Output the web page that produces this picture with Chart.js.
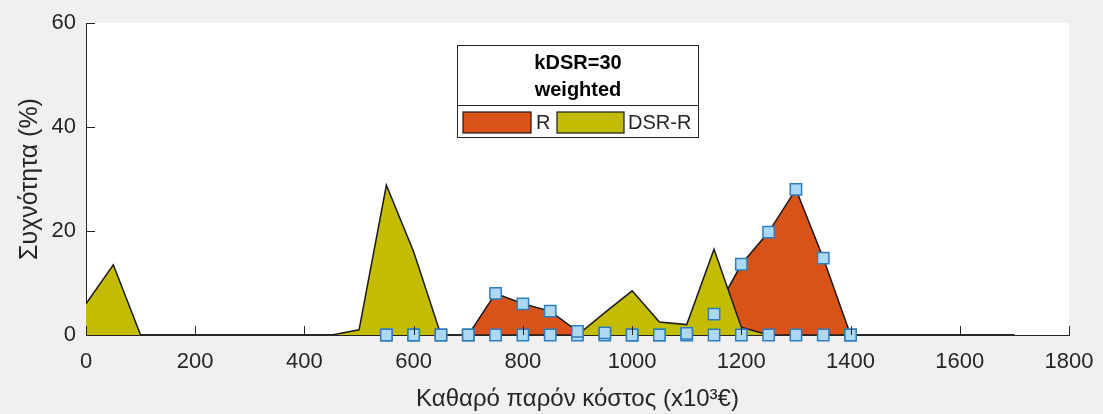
<!DOCTYPE html>
<html>
<head>
<meta charset="utf-8">
<script src="https://cdn.jsdelivr.net/npm/chart.js@4.4.0/dist/chart.umd.min.js"></script>
<style>
  html, body { margin: 0; padding: 0; background: #f0f0f0; }
  #wrap { width: 1103px; height: 414px; }
</style>
</head>
<body>
<div id="wrap"><canvas id="chart" width="1103" height="414"></canvas></div>
<script>
// cost bins (x10^3 €)
const costBins = [0, 50, 100, 150, 200, 250, 300, 350, 400, 450, 500, 550, 600, 650, 700, 750, 800, 850,
                  900, 950, 1000, 1050, 1100, 1150, 1200, 1250, 1300, 1350, 1400, 1450, 1500, 1550, 1600, 1650, 1700];
// frequency (%) per bin
const freqR = [0, 0, 0, 0, 0, 0, 0, 0, 0, 0, 0, 0, 0, 0, 0, 8, 6, 4.6,
               0.7, 0.4, 0, 0, 0.3, 4, 13.6, 19.8, 28, 14.8, 0, 0, 0, 0, 0, 0, 0];
const freqDSR = [6, 13.5, 0, 0, 0, 0, 0, 0, 0, 0, 1, 28.8, 16, 0, 0, 0, 0, 0,
                 0, 4.3, 8.5, 2.5, 2, 16.5, 1.5, 0, 0, 0, 0, 0, 0, 0, 0, 0, 0];
// square markers
const markerBins = [550, 600, 650, 700, 750, 800, 850, 900, 950, 1000, 1050, 1100, 1150, 1200, 1250, 1300, 1350, 1400];
const markerHigh = [0, 0, 0, 0, 8, 6, 4.6, 0.7, 0.4, 0, 0, 0.3, 4, 13.6, 19.8, 28, 14.8, 0];
const markerLow = [0, 0, 0, 0, 0, 0, 0, 0, 0, 0, 0, 0, 0, 0, 0, 0, 0, 0];

const xTicks = [0, 200, 400, 600, 800, 1000, 1200, 1400, 1600, 1800];
const yTicks = [0, 20, 40, 60];

const legendTitle = ['kDSR=30', 'weighted'];
const legendLabels = ['R', 'DSR-R'];

const FONT = '"Liberation Sans", Arial, sans-serif';
const TXT = '#262626';
const COL_R = '#d95319';
const COL_DSR = '#c4bc00';

const pts = (xs, ys) => xs.map((x, i) => ({ x: x, y: ys[i] }));

const bgPlugin = {
    id: 'bg',
    beforeDraw(chart) {
        const { ctx, chartArea: a } = chart;
        ctx.save();
        ctx.fillStyle = '#f0f0f0';
        ctx.fillRect(0, 0, chart.width, chart.height);
        ctx.fillStyle = '#ffffff';
        ctx.fillRect(a.left, a.top, a.right - a.left, a.bottom - a.top);
        ctx.restore();
    }
};

// inward tick marks + legend box
const overlayPlugin = {
    id: 'overlay',
    afterDraw(chart) {
        const { ctx, chartArea: a, scales } = chart;
        ctx.save();
        ctx.strokeStyle = TXT;
        ctx.lineWidth = 1;
        ctx.beginPath();
        xTicks.forEach(v => {
            const px = Math.round(scales.x.getPixelForValue(v)) + 0.5;
            ctx.moveTo(px, a.bottom);
            ctx.lineTo(px, a.bottom - 9);
        });
        yTicks.forEach(v => {
            const py = Math.round(scales.y.getPixelForValue(v)) + 0.5;
            ctx.moveTo(a.left, py);
            ctx.lineTo(a.left + 9, py);
        });
        ctx.stroke();

        // legend
        const lx = 457.5, ly = 45.5, lw = 241, lh = 92, sep = 105.5;
        ctx.fillStyle = '#ffffff';
        ctx.fillRect(lx, ly, lw, lh);
        ctx.strokeStyle = '#262626';
        ctx.strokeRect(lx, ly, lw, lh);
        ctx.beginPath();
        ctx.moveTo(lx, sep);
        ctx.lineTo(lx + lw, sep);
        ctx.stroke();

        ctx.fillStyle = '#000000';
        ctx.textAlign = 'center';
        ctx.textBaseline = 'middle';
        ctx.font = 'bold 20px ' + FONT;
        ctx.fillText(legendTitle[0], lx + lw / 2, 63);
        ctx.fillText(legendTitle[1], lx + lw / 2, 90);

        ctx.lineWidth = 1.2;
        ctx.strokeStyle = '#1a1a1a';
        ctx.fillStyle = COL_R;
        ctx.fillRect(463, 112, 68, 21);
        ctx.strokeRect(463, 112, 68, 21);
        ctx.fillStyle = COL_DSR;
        ctx.fillRect(557, 112, 67, 21);
        ctx.strokeRect(557, 112, 67, 21);

        ctx.fillStyle = TXT;
        ctx.textAlign = 'left';
        ctx.font = '20px ' + FONT;
        ctx.fillText(legendLabels[0], 536, 123);
        ctx.fillText(legendLabels[1], 628, 123);
        ctx.restore();
    }
};

new Chart(document.getElementById('chart'), {
    type: 'line',
    data: {
        datasets: [
            {
                label: 'R markers', data: pts(markerBins, markerHigh), showLine: false, order: 0, clip: false,
                pointStyle: 'rect', pointRadius: 8, pointBackgroundColor: '#acd8f4',
                pointBorderColor: '#2f7cbf', pointBorderWidth: 1.5
            },
            {
                label: 'zero markers', data: pts(markerBins, markerLow), showLine: false, order: 1, clip: false,
                pointStyle: 'rect', pointRadius: 8, pointBackgroundColor: '#acd8f4',
                pointBorderColor: '#2f7cbf', pointBorderWidth: 1.5
            },
            {
                label: 'DSR-R', data: pts(costBins, freqDSR), order: 2,
                fill: 'origin', backgroundColor: COL_DSR, borderColor: '#1a1a1a', borderWidth: 1.5,
                pointRadius: 0, tension: 0
            },
            {
                label: 'R', data: pts(costBins, freqR), order: 3,
                fill: 'origin', backgroundColor: COL_R, borderColor: '#1a1a1a', borderWidth: 1.5,
                pointRadius: 0, tension: 0
            }
        ]
    },
    options: {
        responsive: false,
        animation: false,
        layout: { padding: { top: 23, right: 34, left: 0, bottom: 0 } },
        plugins: {
            legend: { display: false },
            tooltip: { enabled: false }
        },
        scales: {
            x: {
                type: 'linear', min: 0, max: 1800,
                afterFit: s => { s.height = 79; s.paddingLeft = 0; s.paddingRight = 0; },
                afterBuildTicks: s => { s.ticks = xTicks.map(v => ({ value: v })); },
                grid: { display: true, drawOnChartArea: false, drawTicks: false },
                border: { display: true, color: TXT, width: 1 },
                ticks: {
                    padding: 14, color: TXT, font: { family: FONT, size: 22 }, maxRotation: 0,
                    callback: v => String(v)
                },
                title: {
                    display: true, text: 'Καθαρό παρόν κόστος (x10³€)', color: TXT,
                    font: { family: FONT, size: 24 }, padding: { bottom: 0, top: 0 }
                }
            },
            y: {
                min: 0, max: 60,
                afterFit: s => { s.width = 86; s.paddingTop = 0; s.paddingBottom = 0; },
                afterBuildTicks: s => { s.ticks = yTicks.map(v => ({ value: v })); },
                grid: { display: true, drawOnChartArea: false, drawTicks: false },
                border: { display: true, color: TXT, width: 1 },
                ticks: { padding: 10, color: TXT, font: { family: FONT, size: 22 }, callback: v => String(v) },
                title: {
                    display: true, text: 'Συχνότητα (%)', color: TXT,
                    font: { family: FONT, size: 25 }, padding: { top: 15, bottom: 0 }
                }
            }
        }
    },
    plugins: [bgPlugin, overlayPlugin]
});
</script>
</body>
</html>
